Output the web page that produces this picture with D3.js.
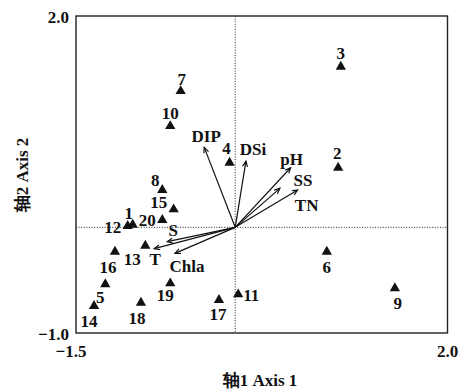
<!DOCTYPE html>
<html><head><meta charset="utf-8">
<script src="https://cdn.jsdelivr.net/npm/d3@7"></script>
<style>
body{margin:0;background:#fff;}
svg text{font-family:"Liberation Serif","Times New Roman",serif;font-weight:bold;fill:#111;}
</style></head>
<body><svg id="c" width="461" height="391"></svg>
<script>
// Sample sites
const siteIds = ["1","2","3","4","5","6","7","8","9","10","11","12","13","14","15","16","17","18","19","20"];
const siteX = [-0.966,0.970,0.995,-0.053,-1.224,0.863,-0.514,-0.687,1.504,-0.612,0.028,-1.013,-0.847,-1.330,-0.580,-1.133,-0.153,-0.888,-0.612,-0.687];
const siteY = [0.025,0.564,1.519,0.611,-0.539,-0.231,1.289,0.353,-0.577,0.958,-0.634,0.012,-0.174,-0.745,0.170,-0.231,-0.688,-0.713,-0.530,0.069];
// Environmental variables
const envNames = ["DIP","DSi","pH","SS","TN","S","T","Chla"];
const envX = [-0.292,0.101,0.522,0.421,0.588,-0.640,-0.763,-0.568];
const envY = [0.757,0.627,0.564,0.369,0.353,-0.136,-0.202,-0.246];
// Axis ticks
const xTicks = [-1.5, 2.0];
const yTicks = [-1.0, 2.0];
const xTitle = "轴1 Axis 1";
const yTitle = "轴2 Axis 2";

// label nudges (layout, px)
const siteLabelOffset = {
 "1":[-4,-12],"2":[-1,-15],"3":[0,-14],"4":[-3,-15],"5":[-5,13],"6":[0,15],"7":[1,-12],
 "8":[-7,-10],"9":[3,15],"10":[0,-13],"11":[13,1],"12":[-15,1],"13":[-13,13],"14":[-5,15],
 "15":[-15,-7],"16":[-7,15],"17":[-1,14],"18":[-4,15],"19":[-5,12],"20":[-15,0]
};
const envLabelOffset = {
 "DIP":[2,-11],"DSi":[7,-12],"pH":[1,-9],"SS":[23,-8],"TN":[9,15],"S":[6,-12],"T":[1,10],"Chla":[12,13]
};

const svg = d3.select("#c");
const L=76, R=447.5, T=16, B=333;
const x = d3.scaleLinear().domain([-1.5,2.0]).range([L,R]);
const y = d3.scaleLinear().domain([-1.0,2.0]).range([B,T]);

// dotted zero lines
svg.append("line").attr("x1",x(0)).attr("x2",x(0)).attr("y1",T).attr("y2",B)
  .attr("stroke","#222").attr("stroke-width",1).attr("stroke-dasharray","1,1.6");
svg.append("line").attr("x1",L).attr("x2",R).attr("y1",y(0)).attr("y2",y(0))
  .attr("stroke","#222").attr("stroke-width",1).attr("stroke-dasharray","1,1.6");

// frame
svg.append("rect").attr("x",L).attr("y",T).attr("width",R-L).attr("height",B-T)
  .attr("fill","none").attr("stroke","#222").attr("stroke-width",1.4);

// tick labels
const fs = 17;
svg.append("text").attr("x",L-7).attr("y",y(yTicks[1])+1).attr("dy","0.35em").attr("text-anchor","end").attr("font-size",fs).text(yTicks[1].toFixed(1));
svg.append("text").attr("x",L-7).attr("y",y(yTicks[0])+1).attr("dy","0.35em").attr("text-anchor","end").attr("font-size",fs).text("\u2212"+Math.abs(yTicks[0]).toFixed(1));
svg.append("text").attr("x",x(xTicks[0])-5).attr("y",B+18).attr("dy","0.35em").attr("text-anchor","middle").attr("font-size",fs).text("\u2212"+Math.abs(xTicks[0]).toFixed(1));
svg.append("text").attr("x",x(xTicks[1])).attr("y",B+18).attr("dy","0.35em").attr("text-anchor","middle").attr("font-size",fs).text(xTicks[1].toFixed(1));

// axis titles
svg.append("text").attr("x",260).attr("y",380).attr("dy","0.35em").attr("text-anchor","middle").attr("font-size",fs).text(xTitle);
svg.append("text").attr("transform","translate(22,175) rotate(-90)").attr("dy","0.35em").attr("text-anchor","middle").attr("font-size",fs).text(yTitle);

// arrows
const env = envNames.map((n,i)=>({n, x:envX[i], y:envY[i]}));
const g = svg.append("g");
env.forEach(d=>{
  const x0=x(0), y0=y(0), x1=x(d.x), y1=y(d.y);
  g.append("line").attr("x1",x0).attr("y1",y0).attr("x2",x1).attr("y2",y1)
    .attr("stroke","#111").attr("stroke-width",1.2);
  const ang = Math.atan2(y1-y0, x1-x0);
  const hl=6, ha=0.42;
  const p1=[x1-hl*Math.cos(ang-ha), y1-hl*Math.sin(ang-ha)];
  const p2=[x1-hl*Math.cos(ang+ha), y1-hl*Math.sin(ang+ha)];
  g.append("path").attr("d",`M${p1[0]},${p1[1]}L${x1},${y1}L${p2[0]},${p2[1]}`)
    .attr("fill","none").attr("stroke","#111").attr("stroke-width",1.2);
  const o = envLabelOffset[d.n];
  g.append("text").attr("x",x1+o[0]).attr("y",y1+o[1]).attr("dy","0.35em")
    .attr("text-anchor","middle").attr("font-size",17).text(d.n);
});

// sites
const sites = siteIds.map((id,i)=>({id, x:siteX[i], y:siteY[i]}));
const tri = d3.symbol().type(d3.symbolTriangle).size(46);
svg.append("g").selectAll("path").data(sites).join("path")
  .attr("d",tri).attr("transform",d=>`translate(${x(d.x)},${y(d.y)})`).attr("fill","#111");
svg.append("g").selectAll("text").data(sites).join("text")
  .attr("x",d=>x(d.x)+siteLabelOffset[d.id][0])
  .attr("y",d=>y(d.y)+siteLabelOffset[d.id][1])
  .attr("dy","0.35em").attr("text-anchor","middle").attr("font-size",17).text(d=>d.id);
</script></body></html>
